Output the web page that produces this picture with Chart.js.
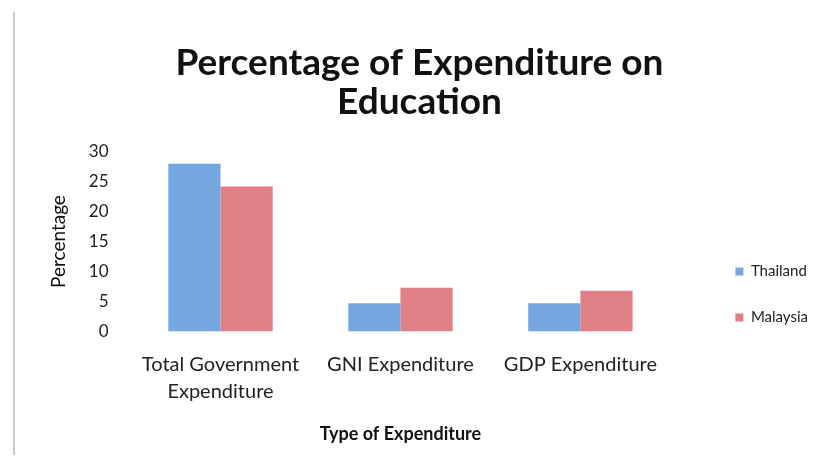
<!DOCTYPE html>
<html>
<head>
<meta charset="utf-8">
<title>Percentage of Expenditure on Education</title>
<script src="https://cdn.jsdelivr.net/npm/chart.js@4.4.1/dist/chart.umd.min.js"></script>
<style>
  html, body { margin: 0; padding: 0; background: #fff; }
  #wrap { width: 814px; height: 463px; }
</style>
</head>
<body>
<div id="wrap"><canvas id="edu"></canvas></div>
<script>
const categories = [['Total Government', 'Expenditure'], 'GNI Expenditure', 'GDP Expenditure'];
const thailand = [28.0, 4.7, 4.7];
const malaysia = [24.2, 7.3, 6.8];
const yTicks = [0, 5, 10, 15, 20, 25, 30];

const FONT = 'Lato, "Noto Sans", sans-serif';

// thin page edge on the left
const pageEdge = {
  id: 'pageEdge',
  beforeDraw(chart) {
    const c = chart.ctx;
    c.save();
    c.strokeStyle = '#b8b8b8';
    c.lineWidth = 1.5;
    c.beginPath();
    c.moveTo(14, 12);
    c.lineTo(14, 455);
    c.stroke();
    c.restore();
  }
};

// push the legend further right and down, and the title a little right
const boxNudge = {
  id: 'boxNudge',
  afterLayout(chart) {
    const l = chart.legend;
    l.left += 34; l.right += 34;
    l.top += 72; l.bottom += 72;
    const t = chart.titleBlock;
    t.left += 4; t.right += 4;
  }
};

new Chart(document.getElementById('edu'), {
  type: 'bar',
  data: {
    labels: categories,
    datasets: [{
      label: 'Thailand',
      data: thailand,
      backgroundColor: '#74a7e0',
      categoryPercentage: 0.58,
      barPercentage: 1.0
    }, {
      label: 'Malaysia',
      data: malaysia,
      backgroundColor: '#e07f86',
      categoryPercentage: 0.58,
      barPercentage: 1.0
    }]
  },
  options: {
    responsive: true,
    maintainAspectRatio: false,
    animation: false,
    layout: { padding: { left: 47, right: 30, bottom: 18 } },
    plugins: {
      title: {
        display: true,
        text: ['Percentage of Expenditure on', 'Education'],
        color: '#111',
        font: { family: FONT, size: 37, weight: 'bold', lineHeight: 1.05 },
        padding: { top: 44, bottom: 30 }
      },
      legend: {
        position: 'right',
        labels: {
          font: { family: FONT, size: 15 },
          color: '#222',
          boxWidth: 8,
          boxHeight: 8,
          padding: 31
        }
      },
      tooltip: { enabled: false }
    },
    scales: {
      x: {
        grid: { display: false },
        border: { display: false },
        ticks: {
          font: { family: FONT, size: 20, lineHeight: 1.35 },
          color: '#222', maxRotation: 0, padding: 12
        },
        title: {
          display: true,
          text: 'Type of Expenditure',
          color: '#111',
          font: { family: FONT, size: 18, weight: 'bold' },
          padding: { top: 6, bottom: 0 }
        }
      },
      y: {
        min: 0,
        max: 30,
        grid: { display: false },
        border: { display: false },
        afterBuildTicks(axis) { axis.ticks = yTicks.map(v => ({ value: v })); },
        ticks: { font: { family: FONT, size: 17 }, color: '#222', padding: 14 },
        title: {
          display: true,
          text: 'Percentage',
          color: '#111',
          font: { family: FONT, size: 19 },
          padding: { top: 0, bottom: 5 }
        }
      }
    }
  },
  plugins: [pageEdge, boxNudge]
});
</script>
</body>
</html>
